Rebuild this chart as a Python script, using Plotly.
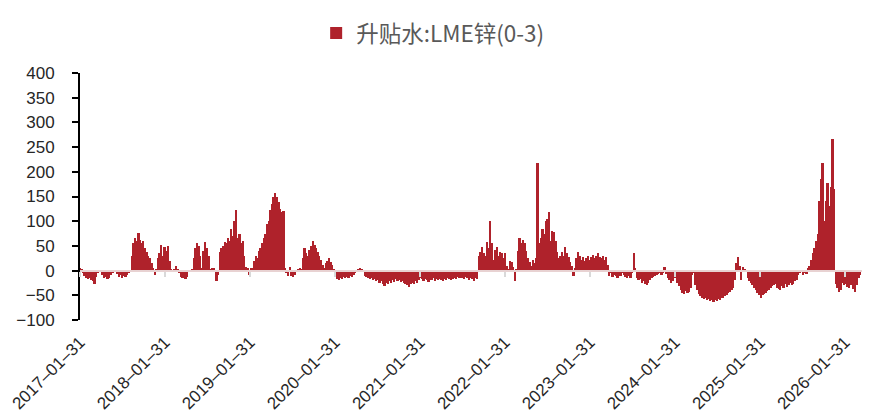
import pandas as pd
import plotly.graph_objects as go

series_name = "升贴水:LME锌(0-3)"
start_date = "2017-01-31"

# weekly readings of the LME zinc 0-3 spread (USD/t)
values_2017 = [5, 3, -5, -10, -14, -18, -15, -20, -22, -27, -12, -4, -2, -3, -8, -14, -12, -18, -15, -9,
               -4, -2, -3, -6, -12, -9, -14, -10, -13, -8, -4, -2, 30, 55, 65, 60, 76, 62, 55, 60,
               45, 38, 30, 25, 15, 5, -8, 2, 25, 35, 52, 30]
values_2018 = [48, 40, 50, 20, 2, -2, 3, 10, 2, -5, -12, -15, -10, -18, -12, -2, 0, 3, 25, 45,
               55, 50, 30, 5, 40, 58, 45, 30, 3, 6, 5, -3, -22, -8, 38, 45, 50, 58, 55, 65,
               60, 85, 70, 100, 123, 65, 75, 55, 60, 30, 8]
values_2019 = [5, -8, 6, 5, 20, 30, 25, 40, 45, 55, 65, 75, 95, 100, 123, 135, 148, 158, 150, 138,
               125, 118, 120, 5, -5, -11, 8, -10, -12, -8, -3, 2, 5, 2, 25, 45, 35, 30, 42, 50,
               60, 52, 45, 38, 30, 22, 12, 5, 15, 20, 25, 18, 12, 3]
values_2020 = [-12, -18, -20, -15, -17, -12, -15, -12, -15, -10, -13, -8, -5, -2, 2, 5, 2, -3, -10, -12,
               -15, -18, -14, -20, -18, -22, -20, -25, -22, -28, -31, -25, -27, -22, -25, -20, -23, -18, -22, -20,
               -24, -22, -26, -28, -30, -33, -27, -25, -28, -22, -25, -20]
values_2021 = [-15, -18, -22, -17, -20, -24, -18, -20, -15, -22, -18, -20, -16, -19, -22, -17, -20, -15, -18, -20,
               -16, -14, -18, -12, -15, -10, -14, -18, -12, -15, -20, -14, -17, -22, -15, -18, 30, 38, 48, 35,
               30, 58, 45, 100, 55, 22, 42, 48, 30, 38, 35, 25]
values_2022 = [35, 10, 3, 20, 18, 8, -21, 2, 40, 65, 55, 62, 55, 40, 25, 18, 10, 22, 15, 25,
               217, 55, 65, 85, 75, 100, 105, 118, 60, 80, 78, 60, 38, 25, 30, 38, 30, 48, 35, 28,
               18, 10, -11, 5, 25, 38, 30, 22, 28, 20, 25, 30]
values_2023 = [22, 28, 32, 25, 30, 35, 28, 25, 30, 22, 28, 12, -10, -5, -12, -8, -10, -14, -6, -10,
               -4, -8, -12, -15, -10, -14, -5, 35, 5, -15, -20, -18, -25, -22, -28, -30, -25, -20, -15, -12,
               -10, -8, -6, -4, -8, -5, 8, -6, -15, -20, -25, -22]
values_2024 = [-15, -2, -25, -32, -40, -45, -48, -42, -46, -44, -35, -8, -5, -30, -40, -48, -52, -55, -58, -56,
               -60, -58, -62, -60, -63, -60, -62, -58, -60, -56, -55, -52, -50, -46, -44, -40, -35, -20, 15, 27,
               10, -20, 8, 2, -2, -15, -22, -25, -30, -35, -40, -45]
values_2025 = [-50, -55, -50, -48, -45, -42, -40, -35, -32, -30, -28, -35, -38, -40, -32, -35, -28, -33, -30, -25,
               -30, -28, -22, -20, -8, -5, -3, -8, -4, -6, 5, 10, 22, 35, 45, 60, 75, 140, 185, 217,
               100, 140, 177, 130, 170, 267, 165, -27, -35, -43, -40, -25]
values_2026 = [-30, -28, -33, -35, -30, -25, -38, -43, -30, -15, -8]

values = (values_2017 + values_2018 + values_2019 + values_2020 + values_2021
          + values_2022 + values_2023 + values_2024 + values_2025 + values_2026)
dates = pd.date_range(start=start_date, periods=len(values), freq="7D")

tick_dates = ["2017-01-31", "2018-01-31", "2019-01-31", "2020-01-31", "2021-01-31",
              "2022-01-31", "2023-01-31", "2024-01-31", "2025-01-31", "2026-01-31"]
tick_text = [d.replace("-", "\u2013") for d in tick_dates]
y_ticks = [-100, -50, 0, 50, 100, 150, 200, 250, 300, 350, 400]

RED = "#AF222B"
WEEK_MS = 7 * 24 * 3600 * 1000

fig = go.Figure()
fig.add_trace(go.Bar(
    x=dates, y=values, name=series_name,
    width=[WEEK_MS * 1.12] * len(values),
    marker=dict(color=RED, line=dict(width=0)),
    xaxis="x", yaxis="y",
))
# helper trace so the zero-level axis line (with its small ticks) is drawn
fig.add_trace(go.Scatter(
    x=[dates[0]], y=[None], xaxis="x2", yaxis="y",
    mode="markers", showlegend=False, hoverinfo="skip",
))

fig.update_layout(
    width=887, height=414,
    margin=dict(l=80, r=25, t=70, b=94),
    paper_bgcolor="white", plot_bgcolor="white",
    bargap=0,
    font=dict(family="Liberation Sans, Arial, sans-serif", color="#262626"),
    showlegend=True,
    legend=dict(
        orientation="h", x=0.302, xanchor="left", y=1.16, yanchor="middle",
        font=dict(family="Noto Sans CJK SC", size=22.5, color="#595959"),
        bgcolor="rgba(0,0,0,0)", itemwidth=30,
    ),
    xaxis=dict(
        type="date", range=["2017-01-31", "2026-04-14"],
        tickmode="array", tickvals=tick_dates, ticktext=tick_text,
        tickangle=-45, tickfont=dict(size=17, color="#262626"),
        showline=False, showgrid=False, zeroline=False, ticks="",
        ticklabelstandoff=8, automargin=False,
    ),
    xaxis2=dict(
        type="date", matches="x", overlaying="x", anchor="free", position=0.2,
        tickmode="array", tickvals=tick_dates, showticklabels=False,
        ticks="outside", ticklen=5, tickwidth=2, tickcolor="#D9D9D9",
        showline=True, linecolor="#E8D2D2", linewidth=2, layer="above traces",
        showgrid=False, zeroline=False, automargin=False,
    ),
    yaxis=dict(
        range=[-100, 400], tickmode="array", tickvals=y_ticks,
        showline=True, linecolor="black", linewidth=2,
        ticks="outside", ticklen=6, tickwidth=2, tickcolor="black",
        tickfont=dict(size=17, color="#262626"),
        showgrid=False, zeroline=False, ticklabelstandoff=14, automargin=False,
    ),
)

fig.write_html("out.html", config={"displayModeBar": False},
               post_script="document.body.style.margin='0';")
